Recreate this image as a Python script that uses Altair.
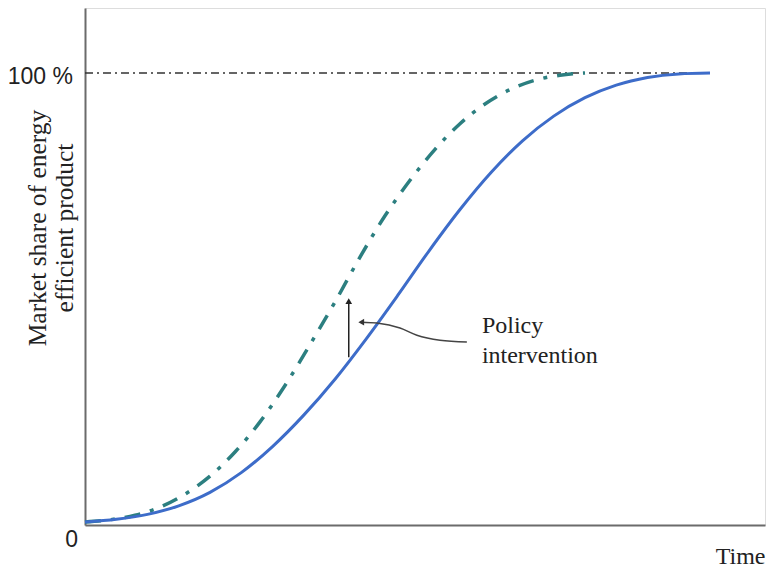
import altair as alt
import pandas as pd

# Baseline diffusion curve (solid blue)
blue_time = [0, 5, 10, 15, 20, 25, 30, 35, 40, 45, 50, 55, 60, 65, 70, 75, 80, 85, 90, 95, 100]
blue_share = [0, 0.6, 1.7, 3.6, 6.6, 11.0, 16.8, 23.8, 31.8, 40.8, 50.4, 60.3, 69.6, 77.9, 84.9, 90.4,
              94.5, 97.3, 99.0, 99.8, 100]
# Diffusion with policy intervention (dash-dot teal)
teal_time = [0, 4, 8, 12, 16, 20, 24, 28, 32, 36, 40, 44, 48, 52, 56, 60, 64, 68, 72, 76, 80]
teal_share = [0, 0.5, 1.5, 3.3, 6.2, 10.2, 15.6, 22.3, 30.4, 39.5, 49.0, 59.0, 68.2, 76.1, 83.0, 88.7,
              93.1, 96.3, 98.4, 99.5, 100]

# 100 % reference line
ref_time = [0, 100]
ref_share = [100, 100]

# Tick labels
tick_values = [0, 100]
tick_labels = ["0", "100 %"]

# Vertical shift arrow
shift_time = [42.2]
shift_from = [36.7]
shift_to = [49.2]

# Curved pointer arrow
pointer_time = [44.2, 46.7, 50.4, 53.1, 56.8, 61.1]
pointer_share = [44.5, 44.3, 43.2, 41.6, 40.5, 40.1]

# Annotation text
note_lines = ["Policy", "intervention"]
note_time = [63.5, 63.5]
note_share = [42.1, 35.4]

y_title = ["Market share of energy", "efficient product"]

XDOM = [0, 108.8]
YDOM = [-0.668, 114.48]

xs = alt.Scale(domain=XDOM, nice=False, zero=False)
ys = alt.Scale(domain=YDOM, nice=False, zero=False)

blue_df = pd.DataFrame({"t": blue_time, "s": blue_share})
teal_df = pd.DataFrame({"t": teal_time, "s": teal_share})
ref_df = pd.DataFrame({"t": ref_time, "s": ref_share})

x_axis = alt.Axis(labels=False, ticks=False, grid=False, domainColor="#6b6b6b", domainWidth=2,
                  title="Time", titleFont="Liberation Serif", titleFontSize=24, titleFontWeight="normal",
                  titleColor="#222222", titleX=680, titleY=38, titleAlign="right", titleBaseline="alphabetic")
y_axis = alt.Axis(labels=False, ticks=False, grid=False, domainColor="#6b6b6b", domainWidth=2, title=None)

ref = alt.Chart(ref_df).mark_line(color="#333333", strokeWidth=1.3, strokeDash=[8, 4, 2, 4]).encode(
    x=alt.X("t:Q", scale=xs, axis=x_axis),
    y=alt.Y("s:Q", scale=ys, axis=y_axis),
)

teal = alt.Chart(teal_df).mark_line(color="#2c7f80", strokeWidth=3.5, strokeDash=[16, 10, 4, 10],
                                    interpolate="monotone").encode(
    x=alt.X("t:Q", scale=xs), y=alt.Y("s:Q", scale=ys))

blue = alt.Chart(blue_df).mark_line(color="#3d6cc9", strokeWidth=3, interpolate="monotone").encode(
    x=alt.X("t:Q", scale=xs), y=alt.Y("s:Q", scale=ys))

shift_df = pd.DataFrame({"t": shift_time, "a": shift_from, "b": shift_to})
shift = alt.Chart(shift_df).mark_rule(color="#222222", strokeWidth=1.5).encode(
    x=alt.X("t:Q", scale=xs), y=alt.Y("a:Q", scale=ys), y2="b:Q")
shift_head = alt.Chart(shift_df).mark_point(shape="triangle-up", filled=True, size=45, color="#222222",
                                            opacity=1).encode(
    x=alt.X("t:Q", scale=xs), y=alt.Y("b:Q", scale=ys))

pointer_df = pd.DataFrame({"t": pointer_time, "s": pointer_share})
pointer = alt.Chart(pointer_df).mark_line(color="#444444", strokeWidth=1.5, interpolate="monotone").encode(
    x=alt.X("t:Q", scale=xs), y=alt.Y("s:Q", scale=ys))
pointer_head = alt.Chart(pointer_df.iloc[[0]]).mark_point(shape="triangle-left", filled=True, size=45,
                                                        color="#333333", opacity=1).encode(
    x=alt.X("t:Q", scale=xs), y=alt.Y("s:Q", scale=ys))

note_df = pd.DataFrame({"t": note_time, "s": note_share, "txt": note_lines})
note = alt.Chart(note_df).mark_text(font="Liberation Serif", fontSize=24, align="left",
                                    baseline="alphabetic", color="#222222").encode(
    x=alt.X("t:Q", scale=xs), y=alt.Y("s:Q", scale=ys), text="txt:N")

tick_df = pd.DataFrame({"v": tick_values, "lab": tick_labels})
tick100 = alt.Chart(tick_df[tick_df.v == 100]).mark_text(font="Liberation Sans", fontSize=23, align="right",
                                                       baseline="middle", dy=4, color="#222222").encode(
    x=alt.value(-12), y=alt.Y("v:Q", scale=ys), text="lab:N")
tick0 = alt.Chart(tick_df[tick_df.v == 0]).mark_text(font="Liberation Sans", fontSize=23, align="right",
                                                   baseline="middle", dy=18, color="#222222").encode(
    x=alt.value(-7), y=alt.Y("v:Q", scale=ys), text="lab:N")

ytitle = alt.Chart(pd.DataFrame({"k": [0]})).mark_text(font="Liberation Serif", fontSize=25.5, angle=270,
                                                      align="center", baseline="middle", lineHeight=27,
                                                      color="#222222").encode(
    x=alt.value(-47), y=alt.value(220), text=alt.value(y_title))

chart = alt.layer(ref, teal, blue, shift, shift_head, pointer, pointer_head, note, tick100, tick0, ytitle).properties(
    width=680, height=517,
    autosize=alt.AutoSizeParams(type="none"),
    padding={"left": 85, "top": 8, "right": 1, "bottom": 43},
).configure_view(stroke=None).configure(background="white")

chart.save("out.html", embed_options={"renderer": "svg", "actions": False})
